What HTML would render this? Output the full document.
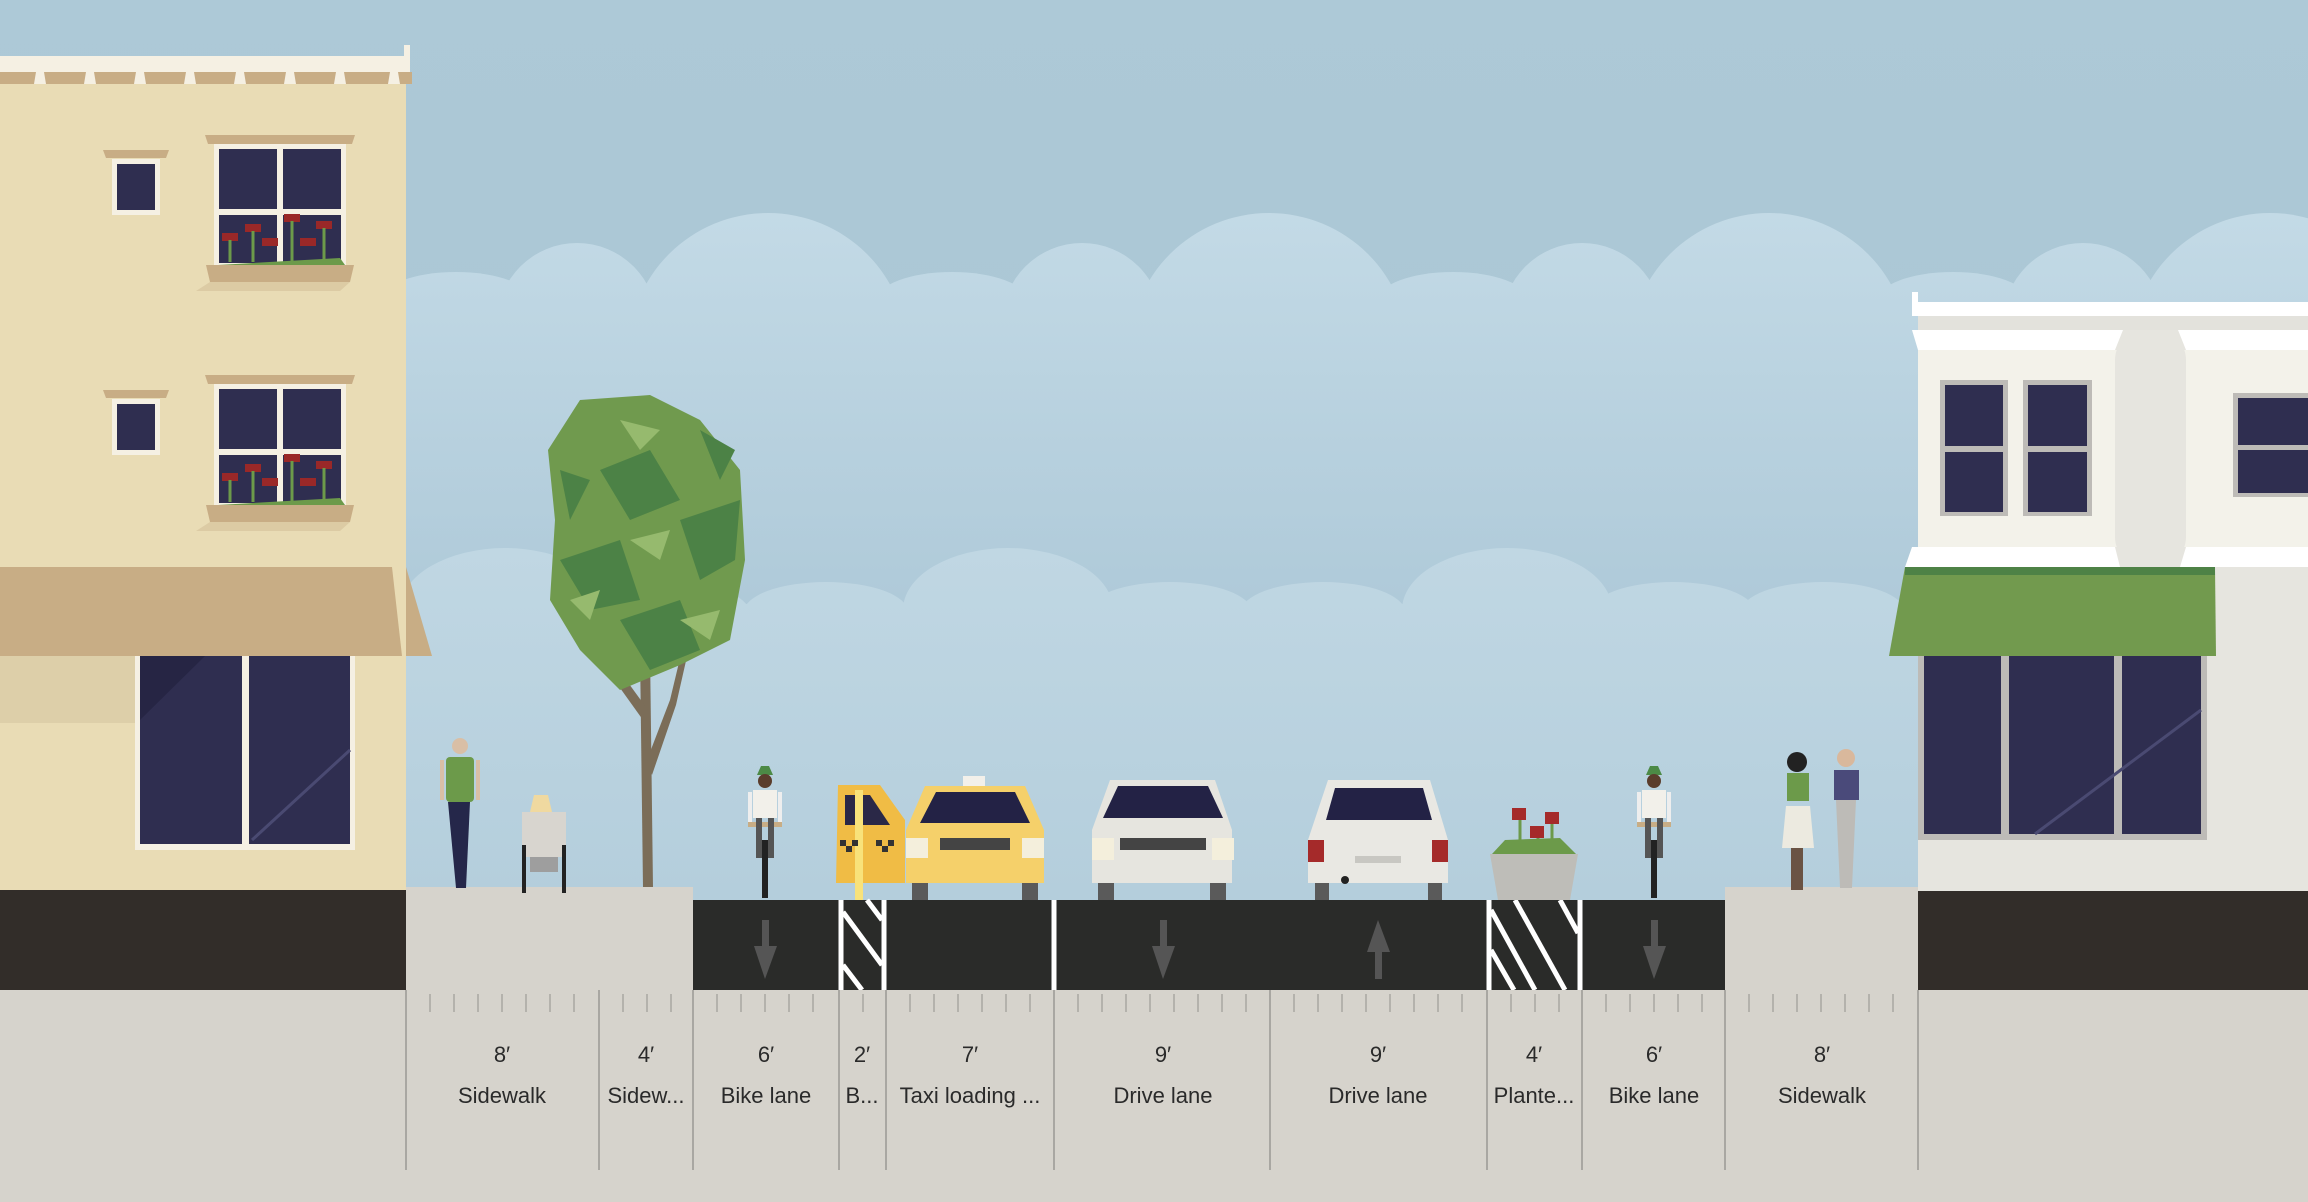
<!DOCTYPE html>
<html><head><meta charset="utf-8"><style>
html,body{margin:0;padding:0;width:2308px;height:1202px;overflow:hidden;background:#d6d3cc}
svg{display:block}
text{font-family:"Liberation Sans",sans-serif;fill:#2a2a2a;text-anchor:middle}
</style></head><body>
<svg width="2308" height="1202" viewBox="0 0 2308 1202" xmlns="http://www.w3.org/2000/svg">
<defs>
<linearGradient id="sky" x1="0" y1="0" x2="0" y2="1"><stop offset="0" stop-color="#adc9d7"/><stop offset="1" stop-color="#a7c2d0"/></linearGradient>
<linearGradient id="cl" gradientUnits="userSpaceOnUse" x1="0" y1="213" x2="0" y2="600"><stop offset="0" stop-color="#c3dae6"/><stop offset="1" stop-color="#afcad9"/></linearGradient>
<linearGradient id="cl2" gradientUnits="userSpaceOnUse" x1="0" y1="548" x2="0" y2="900"><stop offset="0" stop-color="#c0d7e3"/><stop offset="1" stop-color="#b4cedc"/></linearGradient>
</defs>
<rect width="2308" height="1202" fill="url(#sky)"/>
<g fill="url(#cl)">
<circle cx="768" cy="353" r="140"/><circle cx="1269" cy="353" r="140"/><circle cx="1769" cy="353" r="140"/><circle cx="2270" cy="353" r="140"/>
<circle cx="577" cy="323" r="80"/><circle cx="1082" cy="323" r="80"/><circle cx="1582" cy="323" r="80"/><circle cx="2083" cy="323" r="80"/>
<ellipse cx="456" cy="300" rx="75" ry="28"/><ellipse cx="952" cy="300" rx="75" ry="28"/><ellipse cx="1453" cy="300" rx="75" ry="28"/><ellipse cx="1953" cy="300" rx="75" ry="28"/>
<rect x="400" y="290" width="1908" height="610"/>
</g>
<g fill="url(#cl2)">
<ellipse cx="505" cy="610" rx="105" ry="62"/><ellipse cx="1008" cy="610" rx="105" ry="62"/><ellipse cx="1507" cy="610" rx="105" ry="62"/><ellipse cx="2007" cy="610" rx="105" ry="62"/>
<ellipse cx="667" cy="612" rx="82" ry="30"/><ellipse cx="826" cy="612" rx="82" ry="30"/><ellipse cx="1170" cy="612" rx="82" ry="30"/><ellipse cx="1323" cy="612" rx="82" ry="30"/><ellipse cx="1673" cy="612" rx="82" ry="30"/><ellipse cx="1823" cy="612" rx="82" ry="30"/><ellipse cx="2173" cy="612" rx="82" ry="30"/>
<rect x="400" y="604" width="1908" height="296"/>
</g>
<!-- LEFT BUILDING -->
<rect x="0" y="84" width="406" height="810" fill="#e9dcb5"/>
<rect x="0" y="56" width="410" height="16" fill="#f5f0e3"/>
<rect x="404" y="45" width="6" height="27" fill="#f5f0e3"/>
<rect x="0" y="72" width="412" height="12" fill="#c8ad85"/>
<g fill="#f5f0e3"><polygon points="36,72 44,72 46,84 34,84"/><polygon points="86,72 94,72 96,84 84,84"/><polygon points="136,72 144,72 146,84 134,84"/><polygon points="186,72 194,72 196,84 184,84"/><polygon points="236,72 244,72 246,84 234,84"/><polygon points="286,72 294,72 296,84 284,84"/><polygon points="336,72 344,72 346,84 334,84"/><polygon points="390,72 398,72 400,84 388,84"/></g>
<g id="floor">
<polygon points="103,150 169,150 166,158 106,158" fill="#c8ad85"/>
<rect x="112" y="159" width="48" height="56" fill="#f5f0e3"/><rect x="117" y="164" width="38" height="46" fill="#2f2e50"/>
<polygon points="205,135 355,135 352,144 208,144" fill="#c8ad85"/>
<rect x="214" y="144" width="132" height="121" fill="#f5f0e3"/>
<rect x="219" y="149" width="58" height="60" fill="#2f2e50"/><rect x="283" y="149" width="58" height="60" fill="#2f2e50"/>
<rect x="219" y="215" width="58" height="48" fill="#2f2e50"/><rect x="283" y="215" width="58" height="48" fill="#2f2e50"/>
<g fill="#9a2828"><rect x="222" y="233" width="16" height="8"/><rect x="245" y="224" width="16" height="8"/><rect x="262" y="238" width="16" height="8"/><rect x="284" y="214" width="16" height="8"/><rect x="300" y="238" width="16" height="8"/><rect x="316" y="221" width="16" height="8"/></g>
<g stroke="#6c9a4a" stroke-width="3"><line x1="230" y1="240" x2="230" y2="262"/><line x1="253" y1="231" x2="253" y2="262"/><line x1="292" y1="221" x2="292" y2="262"/><line x1="324" y1="228" x2="324" y2="262"/></g>
<polygon points="218,265 340,258 345,265" fill="#6c9a4a"/>
<polygon points="206,265 354,265 350,282 210,282" fill="#c8ad85"/>
<polygon points="196,291 340,291 350,282 210,282" fill="#dccba4"/>
</g>
<use href="#floor" transform="translate(0,240)"/>
<polygon points="0,567 392,567 402,656 0,656" fill="#c8ad85"/>
<polygon points="406,567 432,656 406,656" fill="#c8ad85"/>
<rect x="0" y="656" width="135" height="67" fill="#ddcfa9"/>
<rect x="135" y="656" width="220" height="194" fill="#f5f0e3"/>
<rect x="140" y="656" width="102" height="188" fill="#2f2e50"/><rect x="249" y="656" width="101" height="188" fill="#2f2e50"/>
<polygon points="140,656 205,656 140,720" fill="#262544"/>
<line x1="252" y1="840" x2="350" y2="750" stroke="#4a4a72" stroke-width="3"/>
<!-- RIGHT BUILDING -->
<rect x="1918" y="302" width="390" height="592" fill="#e6e5df"/>
<rect x="1912" y="302" width="396" height="14" fill="#ffffff"/><rect x="1912" y="292" width="6" height="20" fill="#fff"/>
<rect x="1918" y="316" width="390" height="14" fill="#e3e2dc"/>
<rect x="1918" y="350" width="390" height="197" fill="#f3f2ea"/>
<polygon points="1912,330 2123,330 2115,350 1918,350" fill="#fff"/>
<polygon points="2178,330 2308,330 2308,350 2186,350" fill="#fff"/>
<rect x="2115" y="330" width="71" height="237" rx="30" fill="#e6e5df"/>
<g fill="#bdbbb7"><rect x="1940" y="380" width="68" height="136"/><rect x="2023" y="380" width="69" height="136"/><rect x="2233" y="393" width="80" height="104"/></g>
<g fill="#2f2e50"><rect x="1945" y="385" width="58" height="61"/><rect x="1945" y="452" width="58" height="60"/><rect x="2028" y="385" width="59" height="61"/><rect x="2028" y="452" width="59" height="60"/><rect x="2238" y="398" width="75" height="47"/><rect x="2238" y="450" width="75" height="43"/></g>
<polygon points="1912,547 2115,547 2120,567 1905,567" fill="#fff"/>
<polygon points="2186,547 2308,547 2308,567 2180,567" fill="#fff"/>
<polygon points="1905,567 2215,567 2216,656 1889,656" fill="#729a4e"/>
<rect x="1905" y="567" width="310" height="8" fill="#4e8246"/>
<rect x="1918" y="656" width="289" height="184" fill="#bdbbb7"/>
<g fill="#2f2e50"><rect x="1924" y="656" width="77" height="178"/><rect x="2009" y="656" width="105" height="178"/><rect x="2122" y="656" width="79" height="178"/></g>
<line x1="2035" y1="834" x2="2201" y2="710" stroke="#4a4a72" stroke-width="3"/>
<!-- tree -->
<g>
<polygon points="643,888 653,888 650,650 640,650" fill="#7b6d58"/>
<polygon points="643,720 600,660 608,655 648,710" fill="#7b6d58"/>
<polygon points="647,760 670,700 682,650 688,652 676,705 652,775" fill="#7b6d58"/>
<polygon points="580,400 650,395 700,420 740,470 745,560 730,640 680,665 620,690 580,650 550,600 555,520 548,450" fill="#709a4e"/>
<g fill="#4c8246"><polygon points="600,470 650,450 680,500 630,520"/><polygon points="680,520 740,500 735,560 700,580"/><polygon points="560,560 620,540 640,600 590,610"/><polygon points="620,620 680,600 700,650 650,670"/><polygon points="560,470 590,480 570,520"/><polygon points="700,430 735,450 720,480"/></g>
<g fill="#96ba6e"><polygon points="620,420 660,430 640,450"/><polygon points="630,540 670,530 660,560"/><polygon points="680,620 720,610 710,640"/><polygon points="570,600 600,590 590,620"/></g>
</g>
<!-- ground -->
<rect x="0" y="890" width="406" height="100" fill="#322d29"/>
<rect x="1918" y="891" width="390" height="99" fill="#322d29"/>
<rect x="406" y="887" width="287" height="103" fill="#d6d3cc"/>
<rect x="1725" y="887" width="193" height="103" fill="#d6d3cc"/>
<rect x="693" y="900" width="1032" height="90" fill="#2a2b29"/>
<g stroke="#fff" stroke-width="5" fill="none">
<line x1="841" y1="900" x2="841" y2="990"/><line x1="884" y1="900" x2="884" y2="990"/>
<line x1="843" y1="912" x2="882" y2="965"/><line x1="843" y1="965" x2="862" y2="990"/><line x1="867" y1="900" x2="882" y2="920"/>
<line x1="1054" y1="900" x2="1054" y2="990"/>
<line x1="1489" y1="900" x2="1489" y2="990"/><line x1="1580" y1="900" x2="1580" y2="990"/>
<line x1="1491" y1="910" x2="1535" y2="990"/><line x1="1515" y1="900" x2="1565" y2="990"/><line x1="1560" y1="900" x2="1578" y2="933"/><line x1="1491" y1="950" x2="1514" y2="990"/>
</g>
<g fill="#555">
<rect x="762" y="920" width="7" height="28"/><polygon points="754,946 777,946 765,979"/>
<rect x="1160" y="920" width="7" height="28"/><polygon points="1152,946 1175,946 1163,979"/>
<rect x="1375" y="950" width="7" height="29"/><polygon points="1367,952 1390,952 1378,920"/>
<rect x="1651" y="920" width="7" height="28"/><polygon points="1643,946 1666,946 1654,979"/>
</g>
<g>
<circle cx="460" cy="746" r="8" fill="#d9bfa6"/>
<rect x="446" y="757" width="28" height="45" rx="4" fill="#6c9a4a"/>
<polygon points="448,802 470,802 466,888 456,888" fill="#25274a"/>
<rect x="440" y="760" width="4" height="40" fill="#d9bfa6"/><rect x="476" y="760" width="4" height="40" fill="#d9bfa6"/>
<polygon points="534,795 548,795 552,812 530,812" fill="#f0d9a0"/>
<rect x="522" y="812" width="44" height="45" fill="#d8d5cf"/><rect x="530" y="857" width="28" height="15" fill="#9e9e9e"/>
<rect x="522" y="845" width="4" height="48" fill="#222"/><rect x="562" y="845" width="4" height="48" fill="#222"/>
<circle cx="1797" cy="762" r="10" fill="#222"/>
<rect x="1787" y="773" width="22" height="28" fill="#6c9a4a"/><polygon points="1786,806 1810,806 1814,848 1782,848" fill="#eceae0"/>
<rect x="1791" y="848" width="12" height="42" fill="#6a5344"/>
<circle cx="1846" cy="758" r="9" fill="#d9b89c"/>
<rect x="1834" y="770" width="25" height="30" fill="#4a4a7a"/><polygon points="1836,800 1856,800 1852,888 1840,888" fill="#bdbbb7"/>
</g>
<g id="cyc">
<polygon points="757,775 773,775 769,766 761,766" fill="#4c8a46"/>
<circle cx="765" cy="781" r="7" fill="#5a3d2c"/>
<rect x="753" y="790" width="24" height="28" fill="#f2f0ea"/>
<rect x="748" y="792" width="4" height="30" fill="#eee"/><rect x="778" y="792" width="4" height="30" fill="#eee"/>
<rect x="748" y="822" width="34" height="5" fill="#c8ad85"/>
<rect x="756" y="818" width="6" height="40" fill="#555"/><rect x="768" y="818" width="6" height="40" fill="#555"/>
<rect x="762" y="840" width="6" height="58" fill="#222"/>
</g>
<use href="#cyc" transform="translate(889,0)"/>
<polygon points="838,785 880,785 905,820 905,883 836,883" fill="#f0bc45"/>
<polygon points="845,795 870,795 890,825 845,825" fill="#2a2847"/>
<rect x="855" y="790" width="8" height="110" fill="#f8e27a"/>
<g fill="#333"><rect x="840" y="840" width="6" height="6"/><rect x="852" y="840" width="6" height="6"/><rect x="876" y="840" width="6" height="6"/><rect x="888" y="840" width="6" height="6"/><rect x="846" y="846" width="6" height="6"/><rect x="882" y="846" width="6" height="6"/></g>
<rect x="963" y="776" width="22" height="10" fill="#f2f0ea"/>
<polygon points="925,786 1025,786 1044,830 1044,883 906,883 906,830" fill="#f5d06a"/>
<polygon points="936,792 1015,792 1030,823 920,823" fill="#232245"/>
<rect x="906" y="838" width="22" height="20" fill="#f4efdc"/><rect x="1022" y="838" width="22" height="20" fill="#f4efdc"/>
<rect x="940" y="838" width="70" height="12" fill="#444"/>
<rect x="912" y="883" width="16" height="17" fill="#5a5a5a"/><rect x="1022" y="883" width="16" height="17" fill="#5a5a5a"/>
<polygon points="1110,780 1215,780 1232,830 1232,883 1092,883 1092,830" fill="#e6e5df"/>
<polygon points="1118,786 1208,786 1223,818 1103,818" fill="#232245"/>
<rect x="1092" y="838" width="22" height="22" fill="#f4efdc"/><rect x="1212" y="838" width="22" height="22" fill="#f4efdc"/>
<rect x="1120" y="838" width="86" height="12" fill="#444"/>
<rect x="1098" y="883" width="16" height="17" fill="#5a5a5a"/><rect x="1210" y="883" width="16" height="17" fill="#5a5a5a"/>
<polygon points="1328,780 1430,780 1448,840 1448,883 1308,883 1308,840" fill="#e9e8e3"/>
<polygon points="1335,788 1423,788 1432,820 1326,820" fill="#232245"/>
<rect x="1308" y="840" width="16" height="22" fill="#a52a2a"/><rect x="1432" y="840" width="16" height="22" fill="#a52a2a"/>
<rect x="1355" y="856" width="46" height="7" fill="#c8c7c2"/>
<circle cx="1345" cy="880" r="4" fill="#222"/>
<rect x="1315" y="883" width="14" height="17" fill="#5a5a5a"/><rect x="1428" y="883" width="14" height="17" fill="#5a5a5a"/>
<polygon points="1490,854 1578,854 1570,900 1498,900" fill="#bebdb8"/>
<polygon points="1492,854 1576,854 1560,838 1505,840" fill="#6c9a4a"/>
<g stroke="#6c9a4a" stroke-width="3"><line x1="1520" y1="818" x2="1520" y2="850"/><line x1="1538" y1="835" x2="1538" y2="850"/><line x1="1552" y1="820" x2="1552" y2="850"/></g>
<g fill="#a52a2a"><rect x="1512" y="808" width="14" height="12"/><rect x="1545" y="812" width="14" height="12"/><rect x="1530" y="826" width="14" height="12"/></g>
<rect x="0" y="990" width="2308" height="212" fill="#d6d3cc"/>
<g stroke="#a9a7a2" stroke-width="2">
<line x1="406" y1="990" x2="406" y2="1170"/><line x1="599" y1="990" x2="599" y2="1170"/><line x1="693" y1="990" x2="693" y2="1170"/><line x1="839" y1="990" x2="839" y2="1170"/><line x1="886" y1="990" x2="886" y2="1170"/><line x1="1054" y1="990" x2="1054" y2="1170"/><line x1="1270" y1="990" x2="1270" y2="1170"/><line x1="1487" y1="990" x2="1487" y2="1170"/><line x1="1582" y1="990" x2="1582" y2="1170"/><line x1="1725" y1="990" x2="1725" y2="1170"/><line x1="1918" y1="990" x2="1918" y2="1170"/>
</g>
<g stroke="#a9a7a2" stroke-width="1.5">
<path d="M430 994v18M454 994v18M478 994v18M502 994v18M526 994v18M550 994v18M574 994v18M623 994v18M647 994v18M671 994v18M717 994v18M741 994v18M765 994v18M789 994v18M813 994v18M863 994v18M910 994v18M934 994v18M958 994v18M982 994v18M1006 994v18M1030 994v18M1078 994v18M1102 994v18M1126 994v18M1150 994v18M1174 994v18M1198 994v18M1222 994v18M1246 994v18M1294 994v18M1318 994v18M1342 994v18M1366 994v18M1390 994v18M1414 994v18M1438 994v18M1462 994v18M1511 994v18M1535 994v18M1559 994v18M1606 994v18M1630 994v18M1654 994v18M1678 994v18M1702 994v18M1749 994v18M1773 994v18M1797 994v18M1821 994v18M1845 994v18M1869 994v18M1893 994v18"/>
</g>
<g font-size="22">
<text x="502" y="1062">8′</text><text x="502" y="1103">Sidewalk</text>
<text x="646" y="1062">4′</text><text x="646" y="1103">Sidew...</text>
<text x="766" y="1062">6′</text><text x="766" y="1103">Bike lane</text>
<text x="862" y="1062">2′</text><text x="862" y="1103">B...</text>
<text x="970" y="1062">7′</text><text x="970" y="1103">Taxi loading ...</text>
<text x="1163" y="1062">9′</text><text x="1163" y="1103">Drive lane</text>
<text x="1378" y="1062">9′</text><text x="1378" y="1103">Drive lane</text>
<text x="1534" y="1062">4′</text><text x="1534" y="1103">Plante...</text>
<text x="1654" y="1062">6′</text><text x="1654" y="1103">Bike lane</text>
<text x="1822" y="1062">8′</text><text x="1822" y="1103">Sidewalk</text>
</g>
</svg>
</body></html>
